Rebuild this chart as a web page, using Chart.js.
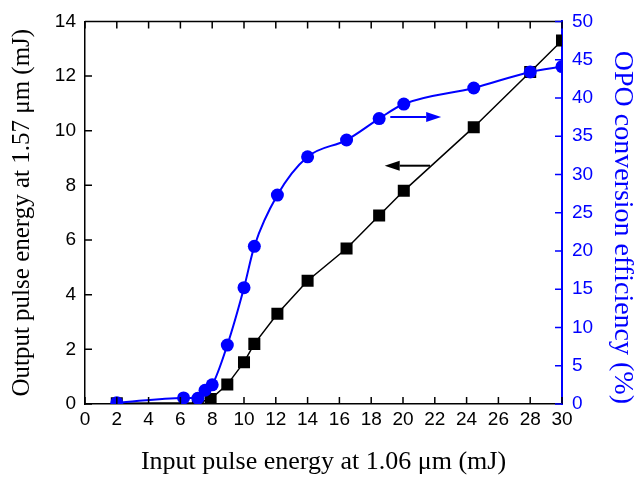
<!DOCTYPE html>
<html>
<head>
<meta charset="utf-8">
<script src="https://cdn.jsdelivr.net/npm/chart.js@4/dist/chart.umd.min.js"></script>
<style>
  body { margin: 0; background: #fff; }
</style>
</head>
<body>
<canvas id="opoGraph" width="637" height="479"></canvas>
<script>
    // Output pulse energy (black squares), mJ
    const pumpOut = [2, 7.1, 7.9, 8.95, 10.0, 10.65, 12.1, 14.0, 16.45, 18.5, 20.05, 24.45, 28.0, 30.0];
    const energyOut = [0.03, 0.05, 0.18, 0.71, 1.53, 2.2, 3.3, 4.51, 5.69, 6.9, 7.8, 10.13, 12.15, 13.3];

    // OPO conversion efficiency (blue circles), %
    const pumpEff = [2, 6.2, 7.1, 7.55, 8.0, 8.95, 10.0, 10.65, 12.1, 14.0, 16.45, 18.5, 20.05, 24.45, 28.0, 30.0];
    const efficiency = [0.15, 0.8, 0.75, 1.8, 2.5, 7.7, 15.2, 20.6, 27.3, 32.3, 34.5, 37.3, 39.2, 41.3, 43.4, 44.1];

    // Axis ranges
    const xRange = [0, 30, 2];
    const yLeftRange = [0, 14, 2];
    const yRightRange = [0, 50, 5];

    // Arrows: [from x, to x, y] in data units (head at "to")
    const arrowOut = [21.7, 18.85, 8.72];   // points to left axis
    const arrowEff = [19.2, 22.4, 37.5];    // points to right axis

    const BLUE = '#0000ff';
    const tickFont = { family: 'Liberation Sans', size: 19 };
    const titleFont = { family: 'Liberation Serif', size: 25, lineHeight: 1 };

    function drawArrow(ctx, x0, x1, y, color) {
      const dir = Math.sign(x1 - x0);
      const head = 15;
      ctx.strokeStyle = color;
      ctx.fillStyle = color;
      ctx.lineWidth = 2;
      ctx.beginPath();
      ctx.moveTo(x0, y);
      ctx.lineTo(x1 - dir * head, y);
      ctx.stroke();
      ctx.beginPath();
      ctx.moveTo(x1, y);
      ctx.lineTo(x1 - dir * head, y - 5);
      ctx.lineTo(x1 - dir * head, y + 5);
      ctx.closePath();
      ctx.fill();
    }

    // Inward ticks, top frame line and the two arrows
    const framePlugin = {
      id: 'frame',
      afterDatasetsDraw(chart) {
        const { ctx, chartArea: a, scales } = chart;
        const len = 7;
        ctx.save();
        ctx.lineWidth = 1.5;
        ctx.strokeStyle = '#000';
        ctx.beginPath();
        ctx.moveTo(a.left, a.top);
        ctx.lineTo(a.right, a.top);
        scales.x.ticks.forEach(t => {
          const px = scales.x.getPixelForValue(t.value);
          ctx.moveTo(px, a.bottom);
          ctx.lineTo(px, a.bottom - len);
          ctx.moveTo(px, a.top);
          ctx.lineTo(px, a.top + len);
        });
        scales.y.ticks.forEach(t => {
          const py = scales.y.getPixelForValue(t.value);
          ctx.moveTo(a.left, py);
          ctx.lineTo(a.left + len, py);
        });
        ctx.stroke();

        ctx.strokeStyle = BLUE;
        ctx.beginPath();
        scales.y2.ticks.forEach(t => {
          const py = scales.y2.getPixelForValue(t.value);
          ctx.moveTo(a.right, py);
          ctx.lineTo(a.right - len, py);
        });
        ctx.stroke();

        const sx = scales.x;
        drawArrow(ctx, sx.getPixelForValue(arrowOut[0]), sx.getPixelForValue(arrowOut[1]),
          scales.y.getPixelForValue(arrowOut[2]), '#000');
        drawArrow(ctx, sx.getPixelForValue(arrowEff[0]), sx.getPixelForValue(arrowEff[1]),
          scales.y2.getPixelForValue(arrowEff[2]), BLUE);
        ctx.restore();
      }
    };

    const ctx = document.getElementById('opoGraph').getContext('2d');
    new Chart(ctx, {
      type: 'line',
      data: {
        datasets: [{
          label: 'OPO conversion efficiency',
          data: pumpEff.map((x, i) => ({ x, y: efficiency[i] })),
          yAxisID: 'y2',
          borderColor: BLUE,
          backgroundColor: BLUE,
          borderWidth: 2,
          cubicInterpolationMode: 'monotone',
          pointStyle: 'circle',
          pointRadius: 6.5,
          pointBorderWidth: 0,
          order: 0,
        }, {
          label: 'Output pulse energy',
          data: pumpOut.map((x, i) => ({ x, y: energyOut[i] })),
          yAxisID: 'y',
          borderColor: '#000',
          backgroundColor: '#000',
          borderWidth: 1.5,
          tension: 0,
          pointStyle: 'rect',
          pointRadius: 8.5,
          pointBorderWidth: 0,
          order: 1,
        }],
      },
      options: {
        responsive: false,
        animation: false,
        events: [],
        layout: { padding: { top: 17, right: 0, left: 0, bottom: 0 } },
        plugins: { legend: { display: false }, tooltip: { enabled: false } },
        scales: {
          x: {
            type: 'linear',
            min: xRange[0],
            max: xRange[1],
            grid: { display: false, drawTicks: false },
            border: { display: true, color: '#000', width: 1.5 },
            ticks: { stepSize: xRange[2], font: tickFont, color: '#000', padding: 4, maxRotation: 0 },
            title: {
              display: true,
              text: 'Input pulse energy at 1.06 μm (mJ)',
              font: { ...titleFont, size: 26 },
              color: '#000',
              padding: { top: 0, bottom: 4 },
            },
            afterFit(scale) { scale.height = 75; },
          },
          y: {
            position: 'left',
            min: yLeftRange[0],
            max: yLeftRange[1],
            grid: { display: false, drawTicks: false },
            border: { display: true, color: '#000', width: 1.5 },
            ticks: { stepSize: yLeftRange[2], font: tickFont, color: '#000', padding: 9 },
            title: {
              display: true,
              text: 'Output pulse energy at 1.57 μm (mJ)',
              font: titleFont,
              color: '#000',
              padding: { top: 10, bottom: 0 },
            },
            afterFit(scale) { scale.width = 85; },
          },
          y2: {
            position: 'right',
            min: yRightRange[0],
            max: yRightRange[1],
            grid: { display: false, drawTicks: false },
            border: { display: true, color: BLUE, width: 2 },
            ticks: { stepSize: yRightRange[2], font: tickFont, color: BLUE, padding: 10 },
            title: {
              display: true,
              align: 'start',
              text: 'OPO conversion efficiency (%)',
              font: { ...titleFont, size: 28 },
              color: BLUE,
              padding: { top: 1, bottom: 0 },
            },
            afterFit(scale) { scale.width = 75; },
          },
        },
      },
      plugins: [framePlugin],
    });
</script>
</body>
</html>
